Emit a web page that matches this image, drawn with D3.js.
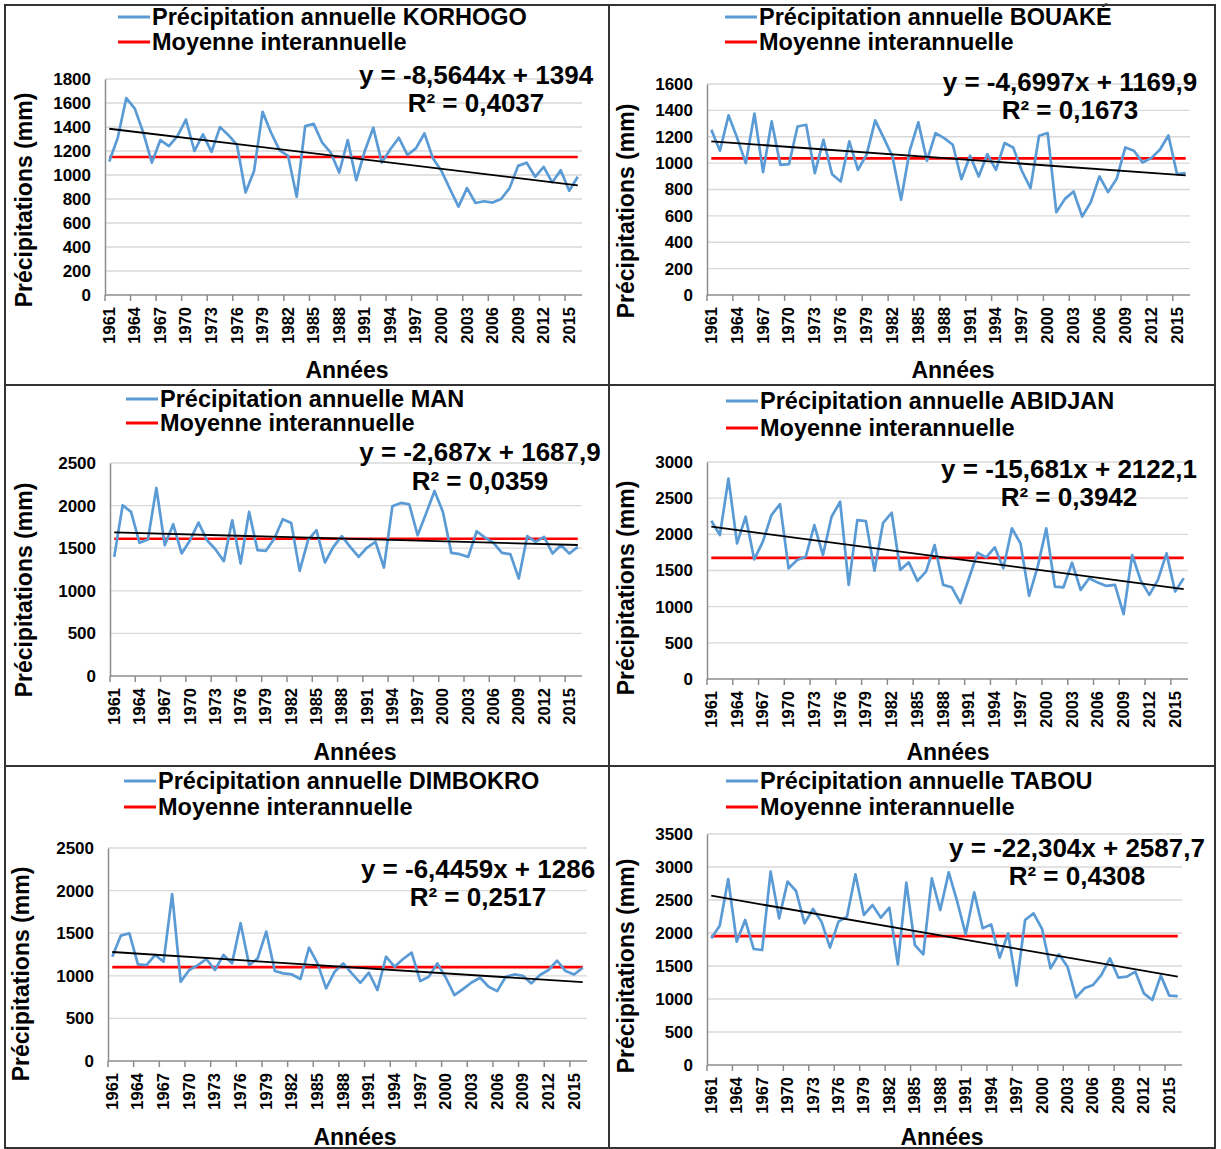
<!DOCTYPE html>
<html><head><meta charset="utf-8">
<script src="https://cdn.jsdelivr.net/npm/d3@7"></script>
<style>
html,body{margin:0;padding:0;background:#fff;}
svg{display:block;font-family:"Liberation Sans",Arial,sans-serif;font-weight:bold;}
</style></head>
<body>
<svg id="chart" width="1221" height="1149"></svg>
<script>
// ---- DATA ----
const years = d3.range(1961, 2017);
const stations = ["KORHOGO", "BOUAKÉ", "MAN", "ABIDJAN", "DIMBOKRO", "TABOU"];
const korhogo = [1112,1310,1641,1553,1352,1103,1291,1241,1324,1462,1200,1338,1192,1399,1332,1250,855,1034,1526,1352,1205,1159,819,1407,1426,1269,1186,1021,1291,957,1200,1393,1103,1214,1310,1167,1222,1346,1139,1034,883,737,891,767,781,770,800,891,1076,1103,985,1068,938,1040,869,985];
const bouake = [1253,1094,1362,1190,1000,1375,932,1316,987,992,1278,1291,924,1177,916,861,1165,949,1063,1324,1190,1051,722,1094,1309,1018,1228,1190,1139,878,1056,899,1068,949,1152,1119,942,810,1208,1228,628,729,785,595,704,899,780,881,1119,1094,1005,1038,1101,1210,916,924];
const man = [1398,2004,1926,1563,1602,2207,1535,1781,1438,1594,1801,1594,1488,1348,1828,1320,1926,1477,1469,1613,1840,1797,1234,1594,1711,1332,1516,1641,1516,1398,1508,1574,1273,1992,2031,2016,1652,1906,2172,1926,1445,1430,1398,1699,1625,1563,1445,1430,1145,1641,1574,1633,1438,1535,1438,1516];
const abidjan = [2188,1990,2771,1875,2243,1654,1898,2266,2417,1530,1645,1691,2128,1714,2243,2450,1301,2197,2183,1498,2160,2298,1507,1613,1356,1484,1852,1301,1268,1048,1393,1746,1682,1820,1530,2082,1875,1149,1553,2082,1278,1268,1608,1232,1393,1333,1287,1301,896,1714,1360,1163,1370,1737,1209,1393];
const dimbokro = [1224,1472,1499,1134,1126,1244,1166,1958,930,1068,1126,1197,1068,1244,1146,1617,1126,1205,1519,1056,1028,1016,962,1330,1146,852,1048,1146,1028,918,1036,832,1224,1107,1197,1272,938,989,1146,977,773,844,922,977,871,820,989,1016,1001,911,1009,1068,1177,1056,1016,1095];
const tabou = [1919,2111,2818,1869,2197,1758,1742,2929,2222,2778,2636,2146,2364,2172,1778,2172,2247,2889,2273,2424,2232,2384,1525,2763,1818,1677,2828,2348,2919,2475,1980,2616,2071,2131,1626,1995,1202,2197,2298,2061,1465,1677,1490,1020,1162,1212,1364,1616,1323,1338,1414,1086,985,1354,1051,1045];
const series = [korhogo, bouake, man, abidjan, dimbokro, tabou];
const means = [1150, 1036, 1611, 1675, 1102, 1952];
const slopes = [-8.5644, -4.6997, -2.687, -15.681, -6.4459, -22.304];
const intercepts = [1394, 1169.9, 1687.9, 2122.1, 1286, 2587.7];
const r2 = [0.4037, 0.1673, 0.0359, 0.3942, 0.2517, 0.4308];
const yMax = [1800, 1600, 2500, 3000, 2500, 3500];
const yStep = [200, 200, 500, 500, 500, 500];
const xLabelYears = d3.range(1961, 2016, 3);

// ---- LAYOUT ----
const layout = [
  {l:105, r:582, t:79, b:295, leg:{x:152, y1:17, y2:42}, eq:{cx:476, y1:75, y2:103}, xt:{cx:347, y:370}, yt:{x:24, cy:200}},
  {l:707, r:1190, t:84, b:295, leg:{x:759, y1:17, y2:42}, eq:{cx:1070, y1:82, y2:110}, xt:{cx:953, y:370}, yt:{x:626, cy:211}},
  {l:110, r:582, t:463, b:676, leg:{x:160, y1:399, y2:423}, eq:{cx:480, y1:452, y2:481}, xt:{cx:355, y:752}, yt:{x:24, cy:590}},
  {l:707, r:1188, t:462, b:679, leg:{x:760, y1:401, y2:428}, eq:{cx:1069, y1:469, y2:497}, xt:{cx:948, y:752}, yt:{x:626, cy:588}},
  {l:108, r:587, t:848, b:1061, leg:{x:158, y1:781, y2:807}, eq:{cx:478, y1:869, y2:897}, xt:{cx:355, y:1137}, yt:{x:21, cy:974}},
  {l:707, r:1182, t:834, b:1065, leg:{x:760, y1:781, y2:807}, eq:{cx:1077, y1:848, y2:876}, xt:{cx:942, y:1137}, yt:{x:626, cy:966}}
];
const C = {blue:"#5b9bd5", red:"#ff0000", trend:"#000", grid:"#d9d9d9", axis:"#8c8c8c", text:"#000", border:"#333"};
const F = {legend:23.5, eq:26, ytick:17, xtick:16.5, title:23};

const svg = d3.select("#chart");
const fmt = v => String(v).replace(".", ",");

layout.forEach((L, p) => {
  const data = series[p];
  const g = svg.append("g");
  const x = d3.scaleBand().domain(years).range([L.l, L.r]).paddingInner(0).paddingOuter(0);
  const cx = yr => x(yr) + x.bandwidth() / 2;
  const y = d3.scaleLinear().domain([0, yMax[p]]).range([L.b, L.t]);
  const yticks = d3.range(0, yMax[p] + 1, yStep[p]);

  // gridlines
  g.append("g").selectAll("line").data(yticks.filter(v => v > 0)).join("line")
    .attr("x1", L.l).attr("x2", L.r).attr("y1", d => y(d)).attr("y2", d => y(d))
    .attr("stroke", C.grid).attr("stroke-width", 1.3);

  // y axis
  const yAxis = d3.axisLeft(y).tickValues(yticks).tickSize(0).tickPadding(14).tickFormat(d3.format("d"));
  const ya = g.append("g").attr("transform", `translate(${L.l},0)`).call(yAxis);
  ya.select(".domain").attr("stroke", C.axis).attr("stroke-width", 1.5);
  ya.selectAll("text").attr("font-size", F.ytick).attr("font-weight", "bold").attr("fill", C.text)
    .attr("font-family", "Liberation Sans, Arial, sans-serif");

  // x axis
  const tickIdx = d3.range(0, 55, 3);
  g.append("line").attr("x1", L.l).attr("x2", L.r).attr("y1", L.b).attr("y2", L.b)
    .attr("stroke", C.axis).attr("stroke-width", 1.5);
  g.append("g").selectAll("line").data(tickIdx).join("line")
    .attr("x1", i => x(years[i])).attr("x2", i => x(years[i]))
    .attr("y1", L.b).attr("y2", L.b + 6).attr("stroke", C.axis).attr("stroke-width", 1.5);
  g.append("g").selectAll("text").data(xLabelYears).join("text")
    .attr("transform", d => `translate(${cx(d) + 5.5},${L.b + 12}) rotate(-90)`)
    .attr("text-anchor", "end").attr("font-size", F.xtick).attr("fill", C.text)
    .text(d => d);

  // mean line
  g.append("line").attr("x1", cx(years[0])).attr("x2", cx(years[years.length - 1]))
    .attr("y1", y(means[p])).attr("y2", y(means[p]))
    .attr("stroke", C.red).attr("stroke-width", 2.6);

  // data line
  g.append("path").datum(data)
    .attr("d", d3.line().x((d, i) => cx(years[i])).y(d => y(d)))
    .attr("fill", "none").attr("stroke", C.blue).attr("stroke-width", 2.7).attr("stroke-linejoin", "round");

  // trend line
  const trend = [1, years.length].map(k => ({k, v: slopes[p] * k + intercepts[p]}));
  g.append("path").datum(trend)
    .attr("d", d3.line().x(d => cx(years[d.k - 1])).y(d => y(d.v)))
    .attr("fill", "none").attr("stroke", C.trend).attr("stroke-width", 1.8);

  // equation
  const sign = intercepts[p] >= 0 ? "+" : "-";
  g.append("text").attr("x", L.eq.cx).attr("y", L.eq.y1 + F.eq * 0.36).attr("text-anchor", "middle")
    .attr("font-size", F.eq).attr("fill", C.text)
    .text(`y = ${fmt(slopes[p])}x ${sign} ${fmt(Math.abs(intercepts[p]))}`);
  g.append("text").attr("x", L.eq.cx).attr("y", L.eq.y2 + F.eq * 0.36).attr("text-anchor", "middle")
    .attr("font-size", F.eq).attr("fill", C.text)
    .text(`R² = ${fmt(r2[p])}`);

  // legend
  const legItems = [{c: C.blue, t: `Précipitation annuelle ${stations[p]}`, y: L.leg.y1},
                    {c: C.red, t: "Moyenne interannuelle", y: L.leg.y2}];
  legItems.forEach(it => {
    g.append("line").attr("x1", L.leg.x - 34).attr("x2", L.leg.x - 2).attr("y1", it.y).attr("y2", it.y)
      .attr("stroke", it.c).attr("stroke-width", 3);
    g.append("text").attr("x", L.leg.x).attr("y", it.y + F.legend * 0.36)
      .attr("font-size", F.legend).attr("fill", C.text).text(it.t);
  });

  // axis titles
  g.append("text").attr("x", L.xt.cx).attr("y", L.xt.y + F.title * 0.36).attr("text-anchor", "middle")
    .attr("font-size", F.title).attr("fill", C.text).text("Années");
  g.append("text").attr("transform", `translate(${L.yt.x + F.title * 0.36},${L.yt.cy}) rotate(-90)`)
    .attr("text-anchor", "middle").attr("font-size", F.title).attr("fill", C.text).text("Précipitations (mm)");
});

// panel borders
const B = {l:5, r:1215, t:5, b:1148, vx:609, h1:385, h2:766};
svg.append("rect").attr("x", B.l).attr("y", B.t).attr("width", B.r - B.l).attr("height", B.b - B.t)
  .attr("fill", "none").attr("stroke", C.border).attr("stroke-width", 2);
svg.append("line").attr("x1", B.vx).attr("x2", B.vx).attr("y1", B.t).attr("y2", B.b).attr("stroke", C.border).attr("stroke-width", 2);
[B.h1, B.h2].forEach(h => svg.append("line").attr("x1", B.l).attr("x2", B.r).attr("y1", h).attr("y2", h).attr("stroke", C.border).attr("stroke-width", 2));
</script>
</body></html>
